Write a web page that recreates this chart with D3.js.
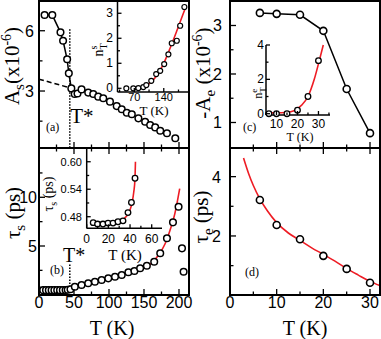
<!DOCTYPE html>
<html><head><meta charset="utf-8">
<script src="https://cdn.jsdelivr.net/npm/d3@7"></script>
<style>body{margin:0;background:#fff}svg{display:block}</style>
</head><body>
<script>
// ---------- data ----------
// panel (a): A_s vs T
const aT = [8, 19, 30.7, 34.4, 40.2, 42.6, 46.2, 51, 55, 60.8, 70.3, 77.5, 84.6, 91.8, 101.4, 111, 118.2, 125.4, 132.6, 142, 151.6, 158.8, 166, 173.2, 182.8, 194.7];
const aA = [6.78, 6.78, 5.92, 5.50, 4.58, 3.88, 3.13, 2.85, 2.88, 3.08, 2.92, 2.85, 2.72, 2.64, 2.47, 2.25, 2.09, 1.92, 1.84, 1.64, 1.47, 1.31, 1.19, 1.02, 0.90, 0.65];
const aLineCount = 8;               // first points joined by the solid line
const aDashT = [0, 45];
const aDashA = [3.59, 3.15];
const tStar = 44;
// inset of (a): n_T^s vs T
const iaT = [51, 67.6, 79.6, 91.4, 98.5, 110.3, 122, 131.5, 141, 151, 159, 171, 179, 189];
const iaN = [0, 0, 0.01, 0.05, 0.13, 0.3, 0.57, 0.7, 0.97, 1.36, 1.8, 1.9, 2.5, 3.25];
const iaFitT = [68, 90, 110, 125, 140, 155, 170, 180, 190];
const iaFitN = [0, 0.05, 0.25, 0.55, 1.0, 1.6, 2.25, 2.7, 3.15];
// panel (b): tau_s vs T
const bT = [6, 10, 14, 18, 22, 26, 30, 34, 38, 41, 45, 51.2, 60.8, 70.3, 79.9, 89.5, 99, 108.6, 118.2, 127.7, 136.3, 144.5, 154.1, 164.6, 173.2, 182.8, 191.4, 199.4, 204.3, 206.6];
const bTau = [0.47, 0.47, 0.47, 0.47, 0.47, 0.47, 0.47, 0.47, 0.49, 0.51, 0.56, 0.82, 1.0, 1.17, 1.33, 1.51, 1.68, 1.85, 2.02, 2.30, 2.43, 2.71, 2.98, 3.39, 4.25, 5.79, 7.43, 9.03, 4.76, 2.36];
const bFitT = [48, 60, 80, 100, 120, 140, 150, 160, 170, 180, 188, 194, 198, 201];
const bFitTau = [0.8, 0.95, 1.3, 1.65, 2.05, 2.55, 2.75, 3.2, 4.0, 5.2, 6.8, 8.3, 9.7, 10.9];
// inset of (b)
const ibT = [6, 10, 15, 19.7, 24.3, 28.9, 33.5, 38.1, 41.3, 44.6];
const ibTau = [0.467, 0.464, 0.464, 0.466, 0.466, 0.469, 0.471, 0.489, 0.511, 0.564];
const ibFitT = [6, 10, 15, 20, 25, 30, 35, 38, 40, 42, 43.5, 44.5, 45.0];
const ibFitTau = [0.471, 0.467, 0.465, 0.465, 0.467, 0.470, 0.477, 0.485, 0.495, 0.512, 0.535, 0.56, 0.60];
// panel (c): -A_e vs T
const cT = [6.4, 10, 15, 20, 25, 30];
const cA = [3.26, 3.24, 3.22, 2.89, 1.69, 0.78];
// inset of (c)
const icN = [0, 0, 0, 0.2, 1.0, 3.09];
const icFitT = [6, 10, 15, 18, 20, 22, 25, 28, 30, 32.3];
const icFitN = [0.05, 0.05, 0.08, 0.15, 0.3, 0.5, 1.0, 2.0, 2.9, 4.0];
// panel (d): tau_e vs T
const dTau = [3.21, 2.37, 1.89, 1.33, 0.89, 0.425];
const dFitT = [2.9, 4, 5, 6.4, 8, 10, 12.5, 15, 17.5, 20, 22.5, 25, 27.5, 30, 32.1];
const dFitTau = [4.63, 4.1, 3.7, 3.25, 2.85, 2.45, 2.1, 1.85, 1.6, 1.38, 1.15, 0.9, 0.68, 0.47, 0.33];
// tick values
const abMajorX = [0, 50, 100, 150, 200], abMinorX = [25, 75, 125, 175];
const aMajorY = [3, 6], aMinorY = [1.5, 4.5];
const bMajorY = [5, 10], bMinorY = [2.5, 7.5, 12.5];
const cdMajorX = [0, 10, 20, 30], cdMinorX = [5, 15, 25];
const cMajorY = [1, 2, 3], cMinorY = [1.5, 2.5];
const dMajorY = [2, 4], dMinorY = [1, 3];
const iaMajorX = [70, 140], iaMinorX = [35, 105, 175], iaMajorY = [0, 1, 2, 3], iaMinorY = [0.5, 1.5, 2.5];
const ibMajorX = [0, 20, 40, 60], ibMinorX = [10, 30, 50], ibMajorY = [0.48, 0.54, 0.60], ibMinorY = [0.51, 0.57];
const icMajorX = [10, 20, 30], icMinorX = [5, 15, 25, 35], icMajorY = [0, 2, 4], icMinorY = [1, 3];

// ---------- drawing ----------
const W = 381, H = 339;
const svg = d3.select("body").append("svg").attr("width", W).attr("height", H);
const SANS = "'Liberation Sans Narrow','Arial Narrow','Liberation Sans',Arial,sans-serif";
const SERIF = "'Liberation Serif','Times New Roman',serif";
const RED = "#ee1c24";

const L1 = 39, R1 = 189, L2 = 230, R2 = 380, TOP = 1, MID = 148, BOT = 295;

const xAB = d3.scaleLinear([0, 214.3], [L1, R1]);
const yA = d3.scaleLinear([0.164, 7.48], [MID, TOP]);
const yB = d3.scaleLinear([-0.03, 15.06], [BOT, MID]);
const xCD = d3.scaleLinear([0, 32.14], [L2, R2]);
const yC = d3.scaleLinear([0.474, 3.505], [MID, TOP]);
const yD = d3.scaleLinear([0.01, 4.965], [BOT, MID]);
const xIA = d3.scaleLinear([30, 200], [117.5, R1]);
const yIA = d3.scaleLinear([-0.148, 3.49], [92, TOP]);
const xIB = d3.scaleLinear([0, 69.5], [86.7, 162]);
const yIB = d3.scaleLinear([0.4547, 0.63], [228.3, MID]);
const xIC = d3.scaleLinear([5, 35.5], [266, 330]);
const yIC = d3.scaleLinear([-0.076, 4.0], [115, 45]);

function line(x1, y1, x2, y2, sw, dash, col) {
  const l = svg.append("line").attr("x1", x1).attr("y1", y1).attr("x2", x2).attr("y2", y2)
    .attr("stroke", col || "#000").attr("stroke-width", sw || 1.3);
  if (dash) l.attr("stroke-dasharray", dash);
  return l;
}
function ticks(scale, vals, orient, pos, len, sw) {
  const d = scale.domain(), lo = Math.min(d[0], d[1]), hi = Math.max(d[0], d[1]);
  vals.filter(v => v >= lo && v <= hi).forEach(v => {
    const p = scale(v);
    if (orient === "left") line(pos, p, pos + len, p, sw);
    else if (orient === "bottom") line(p, pos, p, pos - len, sw);
    else if (orient === "top") line(p, pos, p, pos + len, sw);
  });
}
function xLabels(scale, vals, y, size, fmt) {
  vals.forEach(v => svg.append("text").attr("x", scale(v)).attr("y", y)
    .attr("text-anchor", "middle").attr("font-family", SANS).attr("font-size", size).text(fmt ? fmt(v) : v));
}
function yLabels(scale, vals, x, size, dy, fmt) {
  vals.forEach(v => svg.append("text").attr("x", x).attr("y", scale(v) + dy)
    .attr("text-anchor", "end").attr("font-family", SANS).attr("font-size", size).text(fmt ? fmt(v) : v));
}
function curve(xs, ys, sx, sy, col, sw, dash) {
  const p = svg.append("path").datum(xs.map((t, i) => [t, ys[i]]))
    .attr("d", d3.line().x(d => sx(d[0])).y(d => sy(d[1])).curve(d3.curveMonotoneX))
    .attr("fill", "none").attr("stroke", col).attr("stroke-width", sw);
  if (dash) p.attr("stroke-dasharray", dash);
}
function straight(xs, ys, sx, sy, col, sw, dash) {
  const p = svg.append("path").datum(xs.map((t, i) => [t, ys[i]]))
    .attr("d", d3.line().x(d => sx(d[0])).y(d => sy(d[1])))
    .attr("fill", "none").attr("stroke", col).attr("stroke-width", sw);
  if (dash) p.attr("stroke-dasharray", dash);
}
function dots(xs, ys, sx, sy, r, sw) {
  svg.append("g").selectAll("circle").data(xs.map((t, i) => [t, ys[i]])).join("circle")
    .attr("cx", d => sx(d[0])).attr("cy", d => sy(d[1])).attr("r", r)
    .attr("fill", "#fff").attr("stroke", "#000").attr("stroke-width", sw);
}
function rotLabel(x, y, size, parts) {
  const t = svg.append("text").attr("transform", `translate(${x},${y}) rotate(-90)`)
    .attr("text-anchor", "middle").attr("font-family", SERIF).attr("font-size", size);
  parts.forEach(p => {
    const s = t.append("tspan").text(p.t);
    if (p.fs) s.attr("font-size", p.fs);
    if (p.dy) s.attr("dy", p.dy);
    if (p.dx) s.attr("dx", p.dx);
  });
  return t;
}
function serifText(x, y, size, txt, anchor) {
  return svg.append("text").attr("x", x).attr("y", y).attr("font-family", SERIF).attr("font-size", size)
    .attr("text-anchor", anchor || "start").text(txt);
}

// ===== panel (a) =====
straight(aDashT, aDashA, xAB, yA, "#000", 1.5, "5,3");
line(xAB(tStar), yA(6.08), xAB(tStar), MID, 1.5, "1.5,1.5");
straight(aT.slice(0, aLineCount), aA.slice(0, aLineCount), xAB, yA, "#000", 1.5);
dots(aT, aA, xAB, yA, 3.3, 1.5);
ticks(yA, aMajorY, "left", L1, 6); ticks(yA, aMinorY, "left", L1, 3.5);
ticks(xAB, abMajorX, "bottom", MID, 6); ticks(xAB, abMinorX, "bottom", MID, 3.5);
yLabels(yA, aMajorY, 34, 16, 6);
serifText(xAB(tStar) + 0.5, 123, 21, "T*");
serifText(46, 131, 12, "(a)");
rotLabel(19, 66, 21, [{t: "A"}, {t: "s", fs: 15, dy: 5}, {t: "(x10", dy: -5}, {t: "-6", fs: 14, dy: -8}, {t: ")", dy: 8}]);

// inset (a)
line(xIA.range()[0], TOP, xIA.range()[0], 92, 1.5);
line(xIA.range()[0], 92, R1, 92, 1.5);
curve(iaFitT, iaFitN, xIA, yIA, RED, 1.6);
dots(iaT, iaN, xIA, yIA, 2.5, 1.2);
ticks(xIA, iaMajorX, "bottom", 92, 4); ticks(xIA, iaMinorX, "bottom", 92, 2.5);
ticks(yIA, iaMajorY, "left", 117.5, 4); ticks(yIA, iaMinorY, "left", 117.5, 2.5);
xLabels(xIA, iaMajorX, 100.5, 11);
yLabels(yIA, iaMajorY, 113, 12, 4);
serifText(154, 115, 13, "T (K)", "middle");
rotLabel(103, 50, 14, [{t: "n"}, {t: "s", fs: 10, dy: -6}, {t: "T", fs: 10, dx: -4, dy: 10}]);

// ===== panel (b) =====
line(xAB(0), yB(0.8), xAB(tStar), yB(0.8), 1.3, "1.5,1.5");
line(xAB(tStar), yB(3.1), xAB(tStar), yB(0.8), 1.5, "1.5,1.5");
curve(bFitT, bFitTau, xAB, yB, RED, 1.6);
dots(bT, bTau, xAB, yB, 3.3, 1.5);
ticks(yB, bMajorY, "left", L1, 6); ticks(yB, bMinorY, "left", L1, 3.5);
ticks(xAB, abMajorX, "bottom", BOT, 6); ticks(xAB, abMinorX, "bottom", BOT, 3.5);
ticks(xAB, abMajorX, "top", MID, 6); ticks(xAB, abMinorX, "top", MID, 3.5);
xLabels(xAB, abMajorX, 308, 16);
yLabels(yB, bMajorY, 37, 16, 6);
serifText(63, 262, 20, "T*");
serifText(50, 274, 12, "(b)");
serifText(112, 335, 20, "T (K)", "middle");
rotLabel(20, 213, 21, [{t: "τ"}, {t: "s", fs: 15, dy: 5}, {t: " (ps)", dy: -5}]);

// inset (b)
line(86.7, MID, 86.7, 228.3, 1.5);
line(86.7, 228.3, 162, 228.3, 1.5);
curve(ibFitT, ibFitTau, xIB, yIB, RED, 1.6);
dots(ibT, ibTau, xIB, yIB, 2.8, 1.3);
ticks(xIB, ibMajorX, "bottom", 228.3, 4); ticks(xIB, ibMinorX, "bottom", 228.3, 2.5);
ticks(yIB, ibMajorY, "left", 86.7, 4); ticks(yIB, ibMinorY, "left", 86.7, 2.5);
xLabels(xIB, ibMajorX, 243, 12);
yLabels(yIB, ibMajorY, 82, 11, 4, d3.format(".2f"));
serifText(125, 260, 15, "T (K)", "middle");
rotLabel(53, 194, 14, [{t: "τ"}, {t: "s", fs: 10, dy: 4}, {t: " (ps)", dy: -4}]);

// ===== panel (c) =====
straight(cT, cA, xCD, yC, "#000", 1.5);
dots(cT, cA, xCD, yC, 3.5, 1.6);
ticks(yC, cMajorY, "left", L2, 6); ticks(yC, cMinorY, "left", L2, 3.5);
ticks(xCD, cdMajorX, "bottom", MID, 6); ticks(xCD, cdMinorX, "bottom", MID, 3.5);
yLabels(yC, cMajorY, 222, 16, 6);
serifText(243, 131, 12, "(c)");
rotLabel(210, 73, 21, [{t: "-A"}, {t: "e", fs: 15, dy: 5}, {t: " (x10", dy: -5}, {t: "-6", fs: 14, dy: -8}, {t: ")", dy: 8}]);

// inset (c)
line(266, 45, 266, 115, 1.5);
line(266, 115, 330, 115, 1.5);
curve(icFitT, icFitN, xIC, yIC, RED, 1.6);
dots(cT, icN, xIC, yIC, 2.8, 1.3);
ticks(xIC, icMajorX, "bottom", 115, 4); ticks(xIC, icMinorX, "bottom", 115, 2.5);
ticks(yIC, icMajorY, "left", 266, 4); ticks(yIC, icMinorY, "left", 266, 2.5);
xLabels(xIC, icMajorX, 128, 12);
yLabels(yIC, icMajorY, 264, 12, 4);
serifText(300, 141, 12, "T (K)", "middle");
rotLabel(262, 93, 12, [{t: "n"}, {t: "e", fs: 9, dy: -5}, {t: "T", fs: 9, dx: -4, dy: 9}]);

// ===== panel (d) =====
curve(dFitT, dFitTau, xCD, yD, RED, 1.6);
dots(cT, dTau, xCD, yD, 3.5, 1.6);
ticks(yD, dMajorY, "left", L2, 6); ticks(yD, dMinorY, "left", L2, 3.5);
ticks(xCD, cdMajorX, "bottom", BOT, 6); ticks(xCD, cdMinorX, "bottom", BOT, 3.5);
ticks(xCD, cdMajorX, "top", MID, 6); ticks(xCD, cdMinorX, "top", MID, 3.5);
xLabels(xCD, cdMajorX, 308, 16);
yLabels(yD, dMajorY, 221, 16, 6);
serifText(245, 276, 12, "(d)");
serifText(305, 335, 20, "T (K)", "middle");
rotLabel(208, 217, 21, [{t: "τ"}, {t: "e", fs: 15, dy: 5}, {t: " (ps)", dy: -5}]);

// frames
[[L1, TOP, R1, MID], [L1, MID, R1, BOT], [L2, TOP, R2, MID], [L2, MID, R2, BOT]].forEach(f =>
  svg.append("rect").attr("x", f[0]).attr("y", f[1]).attr("width", f[2] - f[0]).attr("height", f[3] - f[1])
    .attr("fill", "none").attr("stroke", "#000").attr("stroke-width", 2));
</script>
</body></html>
